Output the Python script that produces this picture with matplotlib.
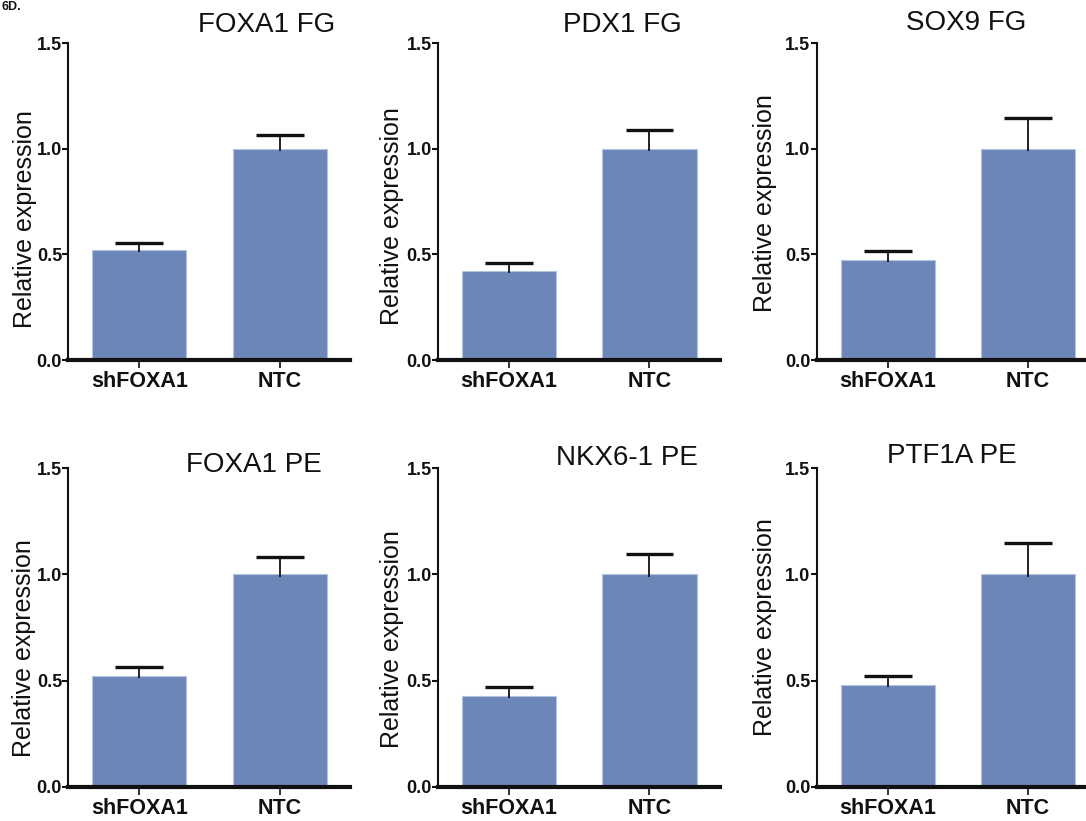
import numpy as np
import matplotlib.pyplot as plt

# ==========================================
# DATA
# ==========================================
groups = ['shFOXA1', 'NTC']
titles = ['FOXA1 FG', 'PDX1 FG', 'SOX9 FG', 'FOXA1 PE', 'NKX6-1 PE', 'PTF1A PE']
means = [
    [0.521, 1.0],
    [0.423, 1.0],
    [0.474, 1.0],
    [0.523, 1.0],
    [0.427, 1.0],
    [0.479, 1.0],
]
errors = [
    [0.035, 0.066],
    [0.035, 0.088],
    [0.044, 0.145],
    [0.043, 0.081],
    [0.044, 0.095],
    [0.043, 0.147],
]
yticks = [0.0, 0.5, 1.0, 1.5]

# ==========================================
# LAYOUT (pixels in a 1086 x 821 canvas)
# ==========================================
W, H = 1086, 821
BAR_COLOR = '#6d86b8'
col_left = [68.3, 438.0, 816.7]
row_bottom = [360.0, 786.7]
row_top = [43.3, 468.3]
unit_px = 140.5          # pixels between the two bar centres
xlim = (-0.505, 1.5)
cap_half = 0.17          # half width of the error cap, in bar spacing units
title_pos = [(267, 25), (622, 25), (966, 23), (254, 465), (627, 458), (952, 456)]
ylabel_pos = [(25, 219), (392, 216), (765, 203), (24, 648), (392, 639), (765, 627)]

tick_font = ['Liberation Sans Narrow', 'DejaVu Sans Condensed', 'Liberation Sans']
text_font = ['Liberation Sans', 'DejaVu Sans']

fig = plt.figure(figsize=(W / 100, H / 100), dpi=100)

for i, title in enumerate(titles):
    r, c = divmod(i, 3)
    left = col_left[c]
    width = (xlim[1] - xlim[0]) * unit_px
    bottom = row_bottom[r]
    height = row_bottom[r] - row_top[r]
    ax = fig.add_axes([left / W, 1 - bottom / H, width / W, height / H])

    x = np.arange(len(groups))
    m = np.array(means[i])
    top = m + np.array(errors[i])
    ax.bar(x, m, width=0.67, color=BAR_COLOR, edgecolor='#b4c3e0',
           linewidth=0.8, zorder=2)
    # upper error only: stem from the bar top and one cap
    ax.vlines(x, m - 0.01, top, color='#111111', linewidth=1.3, zorder=3)
    ax.hlines(top, x - cap_half, x + cap_half, color='#111111', linewidth=2.4,
              zorder=3)

    ax.set_xlim(*xlim)
    ax.set_ylim(0, 1.5)
    ax.set_yticks(yticks)
    ax.set_yticklabels([f'{t:.1f}' for t in yticks], family=tick_font,
                       fontweight='bold', fontsize=13)
    ax.set_xticks(x)
    ax.set_xticklabels(groups, family=text_font, fontweight='bold', fontsize=15.5)

    for side in ['top', 'right']:
        ax.spines[side].set_visible(False)
    ax.spines['left'].set_linewidth(1.5)
    ax.spines['bottom'].set_linewidth(3)
    ax.spines['left'].set_color('#111111')
    ax.spines['bottom'].set_color('#111111')
    ax.tick_params(axis='y', length=4, width=1.5, pad=0.5, colors='#111111')
    ax.tick_params(axis='x', length=6, width=1.2, pad=2, colors='#111111')

    tx, ty = title_pos[i]
    fig.text(tx / W, 1 - ty / H, title, ha='center', va='center',
             family=text_font, fontsize=20, color='#111111')
    lx, ly = ylabel_pos[i]
    fig.text(lx / W, 1 - ly / H, 'Relative expression', ha='center', va='center',
             rotation=90, family=text_font, fontsize=18, color='#111111')

# panel letter in the top-left corner (mostly cropped away in the reference)
fig.text(1 / W, 1 - 1 / H, '6D.', ha='left', va='top', family=text_font,
         fontweight='bold', fontsize=9, color='#111111')

fig.savefig('out.png', dpi=100)
